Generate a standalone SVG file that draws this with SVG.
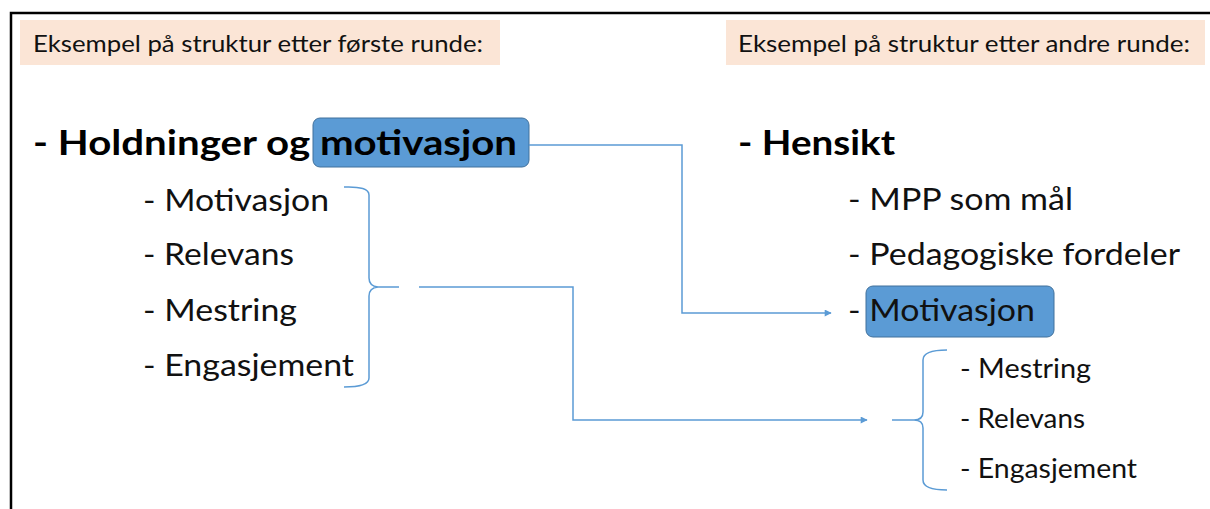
<svg xmlns="http://www.w3.org/2000/svg" width="1210" height="509" viewBox="0 0 1210 509">
<style>
text{font-family:Lato,"Open Sans","Liberation Sans",sans-serif;fill:#111}
.hdr{font-size:22.5px}
.big{font-size:34px;font-weight:bold;fill:#000}
.sub{font-size:30px}
.sm{font-size:26px}
.hbox{fill:#fbe5d6}
.hl{fill:#5b9bd5;stroke:#41719c;stroke-width:1}
.con{fill:none;stroke:#5b9bd5;stroke-width:1.5}
.br{fill:none;stroke:#5b9bd5;stroke-width:1.5}
</style>
<defs>
<marker id="arr" viewBox="0 0 10 10" refX="9" refY="5" markerWidth="8" markerHeight="7" orient="auto" markerUnits="userSpaceOnUse">
<path d="M0,0 L10,5 L0,10 z" fill="#5b9bd5"/>
</marker>
</defs>
<rect width="1210" height="509" fill="#fff"/>
<path d="M11,509 V13 H1210" fill="none" stroke="#000" stroke-width="2.5"/>
<g id="header-left">
<rect class="hbox" x="20" y="20" width="480" height="45"/>
<text class="hdr" x="33" y="52" textLength="450" lengthAdjust="spacingAndGlyphs">Eksempel på struktur etter første runde:</text>
</g>
<g id="header-right">
<rect class="hbox" x="726" y="20" width="479" height="45"/>
<text class="hdr" x="738" y="52" textLength="452" lengthAdjust="spacingAndGlyphs">Eksempel på struktur etter andre runde:</text>
</g>
<g id="node-holdninger">
<rect class="hl" x="313" y="118" width="216" height="49" rx="7"/>
<text class="big" x="33" y="155" textLength="484" lengthAdjust="spacingAndGlyphs">- Holdninger og motivasjon</text>
</g>
<g id="node-left-list">
<text class="sub" x="143" y="211" textLength="186" lengthAdjust="spacingAndGlyphs">- Motivasjon</text>
<text class="sub" x="143" y="265" textLength="151" lengthAdjust="spacingAndGlyphs">- Relevans</text>
<text class="sub" x="143" y="321" textLength="154" lengthAdjust="spacingAndGlyphs">- Mestring</text>
<text class="sub" x="143" y="376" textLength="211" lengthAdjust="spacingAndGlyphs">- Engasjement</text>
<path class="br" d="M344,187 Q369,186 369,195 V278 Q369,286 378,287 L399,287 M378,287 Q369,288 369,296 V378 Q369,387 344,387"/>
</g>
<g id="node-hensikt">
<text class="big" x="738" y="155" textLength="157" lengthAdjust="spacingAndGlyphs">- Hensikt</text>
</g>
<g id="node-right-list">
<text class="sub" x="848" y="210" textLength="225" lengthAdjust="spacingAndGlyphs">- MPP som mål</text>
<text class="sub" x="848" y="265" textLength="332" lengthAdjust="spacingAndGlyphs">- Pedagogiske fordeler</text>
</g>
<g id="node-motivasjon">
<rect class="hl" x="866" y="286" width="188" height="51" rx="7"/>
<text class="sub" x="848" y="321" textLength="187" lengthAdjust="spacingAndGlyphs">- Motivasjon</text>
</g>
<g id="node-right-sub">
<path class="br" d="M947,350 Q923,350 923,360 V412 Q923,420 914,420 H892 M914,420 Q923,420 923,428 V480 Q923,490 947,490"/>
<text class="sm" x="960" y="378" textLength="131" lengthAdjust="spacingAndGlyphs">- Mestring</text>
<text class="sm" x="960" y="428" textLength="125" lengthAdjust="spacingAndGlyphs">- Relevans</text>
<text class="sm" x="960" y="478" textLength="177" lengthAdjust="spacingAndGlyphs">- Engasjement</text>
</g>
<g id="connectors">
<path class="con" d="M529,145 H682 V313 H831" marker-end="url(#arr)"/>
<path class="con" d="M419,287 H573 V420 H867" marker-end="url(#arr)"/>
</g>
</svg>
